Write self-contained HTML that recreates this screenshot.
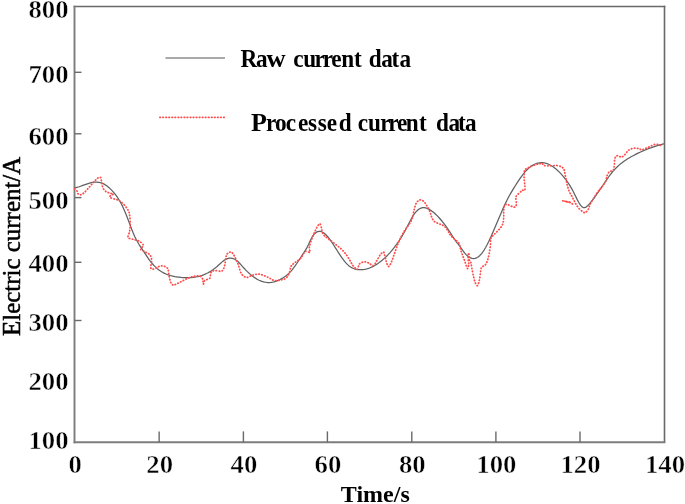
<!DOCTYPE html>
<html><head><meta charset="utf-8"><style>
html,body{margin:0;padding:0;background:#fff;}
body{width:685px;height:504px;overflow:hidden;}
svg{display:block;will-change:transform;}
.b{font-family:"Liberation Serif",serif;font-weight:bold;font-size:25px;fill:#000;}
.n{stroke:#fff;stroke-width:0.45px;paint-order:fill;}
.r{font-family:"Liberation Serif",serif;font-size:25px;fill:#000;stroke:#000;stroke-width:0.5px;}
</style></head><body>
<svg width="685" height="504" viewBox="0 0 685 504">
<line x1="73.6" y1="6.5" x2="665.3" y2="6.5" stroke="#696969" stroke-width="1.6"/>
<line x1="664.5" y1="5.7" x2="664.5" y2="443.1" stroke="#696969" stroke-width="1.6"/>
<line x1="74.5" y1="5.7" x2="74.5" y2="443.2" stroke="#7c7c7c" stroke-width="1.9"/>
<line x1="73.6" y1="442.25" x2="665.3" y2="442.25" stroke="#7c7c7c" stroke-width="1.9"/>
<line x1="159.15" y1="442.3" x2="159.15" y2="431.4" stroke="#6a6a6a" stroke-width="1.4"/>
<line x1="243.4" y1="442.3" x2="243.4" y2="431.4" stroke="#6a6a6a" stroke-width="1.4"/>
<line x1="327.4" y1="442.3" x2="327.4" y2="431.4" stroke="#6a6a6a" stroke-width="1.4"/>
<line x1="411.8" y1="442.3" x2="411.8" y2="431.4" stroke="#6a6a6a" stroke-width="1.4"/>
<line x1="495.9" y1="442.3" x2="495.9" y2="431.4" stroke="#6a6a6a" stroke-width="1.4"/>
<line x1="580.0" y1="442.3" x2="580.0" y2="431.4" stroke="#6a6a6a" stroke-width="1.4"/>
<line x1="74.5" y1="72.3" x2="81.5" y2="72.3" stroke="#6a6a6a" stroke-width="1.4"/>
<line x1="74.5" y1="133.8" x2="81.5" y2="133.8" stroke="#6a6a6a" stroke-width="1.4"/>
<line x1="74.5" y1="197.6" x2="81.5" y2="197.6" stroke="#6a6a6a" stroke-width="1.4"/>
<line x1="74.5" y1="262.3" x2="81.5" y2="262.3" stroke="#6a6a6a" stroke-width="1.4"/>
<line x1="74.5" y1="320.5" x2="81.5" y2="320.5" stroke="#6a6a6a" stroke-width="1.4"/>
<path d="M74.6,188.00 L76.1,187.64 L77.6,187.22 L79.1,186.74 L80.6,186.22 L82.1,185.68 L83.6,185.12 L85.1,184.58 L86.6,184.05 L88.1,183.55 L89.6,183.11 L91.1,182.72 L92.6,182.42 L94.1,182.20 L95.6,182.09 L97.1,182.11 L98.6,182.26 L100.1,182.56 L101.6,183.02 L103.1,183.64 L104.6,184.42 L106.1,185.35 L107.6,186.45 L109.1,187.69 L110.6,189.09 L112.1,190.64 L113.6,192.34 L115.1,194.19 L116.6,196.19 L118.1,198.38 L119.6,200.79 L121.1,203.45 L122.6,206.39 L124.1,209.64 L125.6,213.23 L127.1,217.06 L128.6,221.04 L130.1,225.05 L131.6,228.99 L133.1,232.75 L134.6,236.21 L136.1,239.30 L137.6,242.05 L139.1,244.55 L140.6,246.88 L142.1,249.13 L143.6,251.37 L145.1,253.65 L146.6,255.94 L148.1,258.18 L149.6,260.29 L151.1,262.24 L152.6,264.03 L154.1,265.66 L155.6,267.14 L157.1,268.48 L158.6,269.69 L160.1,270.78 L161.6,271.75 L163.1,272.61 L164.6,273.37 L166.1,274.04 L167.6,274.63 L169.1,275.14 L170.6,275.58 L172.1,275.96 L173.6,276.28 L175.1,276.57 L176.6,276.81 L178.1,277.03 L179.6,277.22 L181.1,277.39 L182.6,277.52 L184.1,277.62 L185.6,277.69 L187.1,277.72 L188.6,277.71 L190.1,277.66 L191.6,277.56 L193.1,277.41 L194.6,277.21 L196.1,276.96 L197.6,276.65 L199.1,276.29 L200.6,275.86 L202.1,275.37 L203.6,274.81 L205.1,274.18 L206.6,273.48 L208.1,272.71 L209.6,271.86 L211.1,270.93 L212.6,269.93 L214.1,268.84 L215.6,267.67 L217.1,266.41 L218.6,265.07 L220.1,263.70 L221.6,262.36 L223.1,261.12 L224.6,260.05 L226.1,259.20 L227.6,258.59 L229.1,258.23 L230.6,258.13 L232.1,258.30 L233.6,258.73 L235.1,259.45 L236.6,260.46 L238.1,261.75 L239.6,263.26 L241.1,264.89 L242.6,266.58 L244.1,268.25 L245.6,269.85 L247.1,271.36 L248.6,272.79 L250.1,274.13 L251.6,275.39 L253.1,276.55 L254.6,277.62 L256.1,278.59 L257.6,279.47 L259.1,280.24 L260.6,280.90 L262.1,281.46 L263.6,281.91 L265.1,282.25 L266.6,282.47 L268.1,282.57 L269.6,282.56 L271.1,282.43 L272.6,282.19 L274.1,281.84 L275.6,281.39 L277.1,280.84 L278.6,280.19 L280.1,279.46 L281.6,278.65 L283.1,277.76 L284.6,276.78 L286.1,275.70 L287.6,274.49 L289.1,273.12 L290.6,271.58 L292.1,269.84 L293.6,267.94 L295.1,265.90 L296.6,263.75 L298.1,261.51 L299.6,259.22 L301.1,256.90 L302.6,254.57 L304.1,252.27 L305.6,249.92 L307.1,247.32 L308.6,244.29 L310.1,240.99 L311.6,237.95 L313.1,235.52 L314.6,233.68 L316.1,232.40 L317.6,231.63 L319.1,231.33 L320.6,231.46 L322.1,231.99 L323.6,232.86 L325.1,234.06 L326.6,235.52 L328.1,237.23 L329.6,239.15 L331.1,241.23 L332.6,243.44 L334.1,245.74 L335.6,248.10 L337.1,250.49 L338.6,252.85 L340.1,255.16 L341.6,257.38 L343.1,259.48 L344.6,261.41 L346.1,263.14 L347.6,264.63 L349.1,265.91 L350.6,266.97 L352.1,267.84 L353.6,268.52 L355.1,269.04 L356.6,269.40 L358.1,269.63 L359.6,269.74 L361.1,269.74 L362.6,269.64 L364.1,269.44 L365.6,269.15 L367.1,268.77 L368.6,268.29 L370.1,267.73 L371.6,267.08 L373.1,266.35 L374.6,265.53 L376.1,264.64 L377.6,263.66 L379.1,262.61 L380.6,261.48 L382.1,260.28 L383.6,259.00 L385.1,257.64 L386.6,256.20 L388.1,254.68 L389.6,253.07 L391.1,251.38 L392.6,249.59 L394.1,247.72 L395.6,245.74 L397.1,243.67 L398.6,241.50 L400.1,239.23 L401.6,236.83 L403.1,234.29 L404.6,231.61 L406.1,228.77 L407.6,225.84 L409.1,222.91 L410.6,220.07 L412.1,217.39 L413.6,214.97 L415.1,212.89 L416.6,211.17 L418.1,209.80 L419.6,208.77 L421.1,208.08 L422.6,207.72 L424.1,207.67 L425.6,207.91 L427.1,208.39 L428.6,209.07 L430.1,209.90 L431.6,210.89 L433.1,212.02 L434.6,213.28 L436.1,214.67 L437.6,216.17 L439.1,217.77 L440.6,219.48 L442.1,221.27 L443.6,223.16 L445.1,225.13 L446.6,227.19 L448.1,229.33 L449.6,231.55 L451.1,233.86 L452.6,236.22 L454.1,238.58 L455.6,240.80 L457.1,242.78 L458.6,244.63 L460.1,246.61 L461.6,248.78 L463.1,250.95 L464.6,252.95 L466.1,254.66 L467.6,256.06 L469.1,257.15 L470.6,257.92 L472.1,258.38 L473.6,258.51 L475.1,258.31 L476.6,257.79 L478.1,256.92 L479.6,255.72 L481.1,254.17 L482.6,252.27 L484.1,250.05 L485.6,247.53 L487.1,244.77 L488.6,241.78 L490.1,238.61 L491.6,235.29 L493.1,231.86 L494.6,228.35 L496.1,224.80 L497.6,221.23 L499.1,217.67 L500.6,214.15 L502.1,210.70 L503.6,207.34 L505.1,204.10 L506.6,201.01 L508.1,198.08 L509.6,195.29 L511.1,192.64 L512.6,190.09 L514.1,187.64 L515.6,185.26 L517.1,182.94 L518.6,180.66 L520.1,178.44 L521.6,176.30 L523.1,174.28 L524.6,172.41 L526.1,170.71 L527.6,169.19 L529.1,167.83 L530.6,166.64 L532.1,165.61 L533.6,164.74 L535.1,164.03 L536.6,163.47 L538.1,163.07 L539.6,162.81 L541.1,162.70 L542.6,162.74 L544.1,162.91 L545.6,163.23 L547.1,163.68 L548.6,164.27 L550.1,164.98 L551.6,165.83 L553.1,166.79 L554.6,167.89 L556.1,169.10 L557.6,170.43 L559.1,171.87 L560.6,173.43 L562.1,175.09 L563.6,176.87 L565.1,178.74 L566.6,180.73 L568.1,182.84 L569.6,185.12 L571.1,187.60 L572.6,190.29 L574.1,193.23 L575.6,196.32 L577.1,199.38 L578.6,202.21 L580.1,204.64 L581.6,206.48 L583.1,207.54 L584.6,207.69 L586.1,207.07 L587.6,205.86 L589.1,204.24 L590.6,202.42 L592.1,200.52 L593.6,198.55 L595.1,196.52 L596.6,194.44 L598.1,192.32 L599.6,190.15 L601.1,187.95 L602.6,185.73 L604.1,183.50 L605.6,181.29 L607.1,179.11 L608.6,177.00 L610.1,174.96 L611.6,173.02 L613.1,171.20 L614.6,169.50 L616.1,167.93 L617.6,166.47 L619.1,165.11 L620.6,163.84 L622.1,162.66 L623.6,161.55 L625.1,160.51 L626.6,159.53 L628.1,158.59 L629.6,157.69 L631.1,156.83 L632.6,155.99 L634.1,155.18 L635.6,154.39 L637.1,153.63 L638.6,152.90 L640.1,152.19 L641.6,151.50 L643.1,150.84 L644.6,150.20 L646.1,149.58 L647.6,148.99 L649.1,148.42 L650.6,147.86 L652.1,147.33 L653.6,146.82 L655.1,146.33 L656.6,145.86 L658.1,145.40 L659.6,144.97 L661.1,144.55 L662.6,144.15 L664.1,143.76 L664.2,143.74" fill="none" stroke="#606060" stroke-width="1.25" stroke-linejoin="round"/>
<path d="M74.60,188.80 C75.00,189.17 76.45,190.20 77.00,191.00 C77.55,191.80 77.32,192.97 77.90,193.60 C78.48,194.23 79.48,194.93 80.50,194.80 C81.52,194.67 82.53,194.08 84.00,192.80 C85.47,191.52 87.70,188.85 89.30,187.10 C90.90,185.35 92.22,183.78 93.60,182.30 C94.98,180.82 96.43,179.00 97.60,178.20 C98.77,177.40 99.95,176.97 100.60,177.50 C101.25,178.03 101.13,179.73 101.50,181.40 C101.87,183.07 102.07,185.82 102.80,187.50 C103.53,189.18 104.50,190.50 105.90,191.50 C107.30,192.50 109.95,193.07 111.20,193.50 C112.45,193.93 113.55,193.72 113.40,194.10 C113.25,194.48 110.82,195.22 110.30,195.80 C109.78,196.38 109.43,197.02 110.30,197.60 C111.17,198.18 113.97,198.75 115.50,199.30 C117.03,199.85 118.12,200.05 119.50,200.90 C120.88,201.75 122.35,202.83 123.80,204.40 C125.25,205.97 127.25,208.58 128.20,210.30 C129.15,212.02 129.15,212.50 129.50,214.70 C129.85,216.90 130.30,220.68 130.30,223.50 C130.30,226.32 129.87,229.28 129.50,231.60 C129.13,233.92 127.48,236.10 128.10,237.40 C128.72,238.70 131.37,238.78 133.20,239.40 C135.03,240.02 137.42,240.13 139.10,241.10 C140.78,242.07 143.03,243.83 143.30,245.20 C143.57,246.57 140.30,248.15 140.70,249.30 C141.10,250.45 144.13,251.13 145.70,252.10 C147.27,253.07 149.12,253.75 150.10,255.10 C151.08,256.45 151.48,258.08 151.60,260.20 C151.72,262.32 150.53,266.32 150.80,267.80 C151.07,269.28 151.95,269.28 153.20,269.10 C154.45,268.92 156.70,267.23 158.30,266.70 C159.90,266.17 161.40,265.77 162.80,265.90 C164.20,266.03 165.78,266.77 166.70,267.50 C167.62,268.23 167.83,268.52 168.30,270.30 C168.77,272.08 168.93,275.90 169.50,278.20 C170.07,280.50 170.83,283.00 171.70,284.10 C172.57,285.20 173.22,285.17 174.70,284.80 C176.18,284.43 178.40,283.00 180.60,281.90 C182.80,280.80 185.70,279.12 187.90,278.20 C190.10,277.28 191.85,276.77 193.80,276.40 C195.75,276.03 198.13,275.58 199.60,276.00 C201.07,276.42 201.98,277.55 202.60,278.90 C203.22,280.25 202.93,283.85 203.30,284.10 C203.67,284.35 203.70,281.38 204.80,280.40 C205.90,279.42 208.92,279.43 209.90,278.20 C210.88,276.97 209.97,274.28 210.70,273.00 C211.43,271.72 212.47,270.82 214.30,270.50 C216.13,270.18 219.98,271.90 221.70,271.10 C223.42,270.30 223.85,268.22 224.60,265.70 C225.35,263.18 225.57,258.17 226.20,256.00 C226.83,253.83 227.72,253.35 228.40,252.70 C229.08,252.05 229.70,252.12 230.30,252.10 C230.90,252.08 231.28,251.88 232.00,252.60 C232.72,253.32 233.57,254.40 234.60,256.40 C235.63,258.40 237.05,261.70 238.20,264.60 C239.35,267.50 240.10,271.67 241.50,273.80 C242.90,275.93 244.77,277.17 246.60,277.40 C248.43,277.63 250.28,275.72 252.50,275.20 C254.72,274.68 257.28,273.93 259.90,274.30 C262.52,274.67 265.83,276.38 268.20,277.40 C270.57,278.42 271.90,279.98 274.10,280.40 C276.30,280.82 279.32,280.37 281.40,279.90 C283.48,279.43 285.23,278.93 286.60,277.60 C287.97,276.27 288.87,273.77 289.60,271.90 C290.33,270.03 290.17,267.92 291.00,266.40 C291.83,264.88 293.02,264.12 294.60,262.80 C296.18,261.48 298.73,260.37 300.50,258.50 C302.27,256.63 303.63,252.65 305.20,251.60 C306.77,250.55 309.22,252.88 309.90,252.20 C310.58,251.52 309.00,249.65 309.30,247.50 C309.60,245.35 310.82,241.85 311.70,239.30 C312.58,236.75 313.63,234.35 314.60,232.20 C315.57,230.05 316.62,227.80 317.50,226.40 C318.38,225.00 319.25,223.60 319.90,223.80 C320.55,224.00 321.02,226.28 321.40,227.60 C321.78,228.92 321.68,230.33 322.20,231.70 C322.72,233.07 323.23,234.43 324.50,235.80 C325.77,237.17 327.93,238.45 329.80,239.90 C331.67,241.35 333.75,242.95 335.70,244.50 C337.65,246.05 339.75,247.52 341.50,249.20 C343.25,250.88 344.83,252.80 346.20,254.60 C347.57,256.40 348.68,258.32 349.70,260.00 C350.72,261.68 351.37,263.35 352.30,264.70 C353.23,266.05 354.42,267.35 355.30,268.10 C356.18,268.85 356.92,269.88 357.60,269.20 C358.28,268.52 358.32,265.22 359.40,264.00 C360.48,262.78 362.55,262.07 364.10,261.90 C365.65,261.73 367.15,262.37 368.70,263.00 C370.25,263.63 372.03,266.13 373.40,265.70 C374.77,265.27 375.73,262.25 376.90,260.40 C378.07,258.55 379.32,256.00 380.40,254.60 C381.48,253.20 382.72,252.00 383.40,252.00 C384.08,252.00 384.02,253.00 384.50,254.60 C384.98,256.20 385.62,259.62 386.30,261.60 C386.98,263.58 387.72,266.50 388.60,266.50 C389.48,266.50 390.62,263.78 391.60,261.60 C392.58,259.42 393.53,256.13 394.50,253.40 C395.47,250.67 396.42,247.73 397.40,245.20 C398.38,242.67 399.22,240.60 400.40,238.20 C401.58,235.80 403.00,233.17 404.50,230.80 C406.00,228.43 408.10,226.12 409.40,224.00 C410.70,221.88 411.52,220.45 412.30,218.10 C413.08,215.75 413.42,212.43 414.10,209.90 C414.78,207.37 415.43,204.55 416.40,202.90 C417.37,201.25 418.73,200.30 419.90,200.00 C421.07,199.70 422.23,200.13 423.40,201.10 C424.57,202.07 425.82,204.03 426.90,205.80 C427.98,207.57 429.12,209.85 429.90,211.70 C430.68,213.55 430.83,215.25 431.60,216.90 C432.37,218.55 433.13,220.42 434.50,221.60 C435.87,222.78 438.13,223.22 439.80,224.00 C441.47,224.78 443.13,225.13 444.50,226.30 C445.87,227.47 447.02,229.53 448.00,231.00 C448.98,232.47 449.28,233.70 450.40,235.10 C451.52,236.50 453.30,238.10 454.70,239.40 C456.10,240.70 457.73,240.95 458.80,242.90 C459.87,244.85 460.22,248.37 461.10,251.10 C461.98,253.83 463.02,256.38 464.10,259.30 C465.18,262.22 466.83,267.82 467.60,268.60 C468.37,269.38 468.62,265.75 468.70,264.00 C468.78,262.25 468.13,259.97 468.10,258.10 C468.07,256.23 468.30,253.10 468.50,252.80 C468.70,252.50 469.17,255.12 469.30,256.30 C469.43,257.48 469.05,258.92 469.30,259.90 C469.55,260.88 470.40,260.93 470.80,262.20 C471.20,263.47 471.27,265.25 471.70,267.50 C472.13,269.75 472.82,273.17 473.40,275.70 C473.98,278.23 474.52,281.05 475.20,282.70 C475.88,284.35 476.82,285.98 477.50,285.60 C478.18,285.22 478.82,282.45 479.30,280.40 C479.78,278.35 480.05,275.45 480.40,273.30 C480.75,271.15 480.62,268.87 481.40,267.50 C482.18,266.13 484.08,266.28 485.10,265.10 C486.12,263.92 486.82,262.35 487.50,260.40 C488.18,258.45 488.72,255.93 489.20,253.40 C489.68,250.87 490.10,247.73 490.40,245.20 C490.70,242.67 490.32,240.07 491.00,238.20 C491.68,236.33 493.15,235.45 494.50,234.00 C495.85,232.55 497.75,231.13 499.10,229.50 C500.45,227.87 501.83,226.25 502.60,224.20 C503.37,222.15 503.52,219.55 503.70,217.20 C503.88,214.85 503.50,212.15 503.70,210.10 C503.90,208.05 504.12,205.77 504.90,204.90 C505.68,204.03 506.83,204.52 508.40,204.90 C509.97,205.28 512.97,207.30 514.30,207.20 C515.63,207.10 516.12,206.05 516.40,204.30 C516.68,202.55 515.38,198.68 516.00,196.70 C516.62,194.72 519.07,193.47 520.10,192.40 C521.13,191.33 521.45,190.62 522.20,190.30 C522.95,189.98 524.13,190.98 524.60,190.50 C525.07,190.02 524.98,188.42 525.00,187.40 C525.02,186.38 524.85,186.05 524.70,184.40 C524.55,182.75 524.12,179.83 524.10,177.50 C524.08,175.17 524.02,171.97 524.60,170.40 C525.18,168.83 526.13,168.92 527.60,168.10 C529.07,167.28 531.45,166.22 533.40,165.50 C535.35,164.78 537.83,164.15 539.30,163.80 C540.77,163.45 541.42,163.12 542.20,163.40 C542.98,163.68 542.73,165.10 544.00,165.50 C545.27,165.90 547.67,165.80 549.80,165.80 C551.93,165.80 554.85,165.32 556.80,165.50 C558.75,165.68 560.32,166.27 561.50,166.90 C562.68,167.53 563.32,168.12 563.90,169.30 C564.48,170.48 564.62,172.25 565.00,174.00 C565.38,175.75 565.80,177.85 566.20,179.80 C566.60,181.75 566.83,183.65 567.40,185.70 C567.97,187.75 568.73,190.12 569.60,192.10 C570.47,194.08 571.72,195.92 572.60,197.60 C573.48,199.28 573.93,200.50 574.90,202.20 C575.87,203.90 577.03,206.18 578.40,207.80 C579.77,209.42 581.93,211.12 583.10,211.90 C584.27,212.68 584.52,212.98 585.40,212.50 C586.28,212.02 587.62,210.37 588.40,209.00 C589.18,207.63 589.23,206.07 590.10,204.30 C590.97,202.53 592.42,200.35 593.60,198.40 C594.78,196.45 595.87,194.43 597.20,192.60 C598.53,190.77 600.22,189.25 601.60,187.40 C602.98,185.55 604.55,183.55 605.50,181.50 C606.45,179.45 606.62,176.75 607.30,175.10 C607.98,173.45 608.63,172.38 609.60,171.60 C610.57,170.82 612.32,171.48 613.10,170.40 C613.88,169.32 614.03,166.95 614.30,165.10 C614.57,163.25 614.40,160.77 614.70,159.30 C615.00,157.83 615.48,156.88 616.10,156.30 C616.72,155.72 617.53,155.65 618.40,155.80 C619.27,155.95 620.32,157.30 621.30,157.20 C622.28,157.10 623.32,156.12 624.30,155.20 C625.28,154.28 626.23,152.68 627.20,151.70 C628.17,150.72 628.83,149.90 630.10,149.30 C631.37,148.70 633.33,148.20 634.80,148.10 C636.27,148.00 637.73,148.43 638.90,148.70 C640.07,148.97 640.53,149.80 641.80,149.70 C643.07,149.60 644.93,148.75 646.50,148.10 C648.07,147.45 649.73,146.43 651.20,145.80 C652.67,145.17 654.03,144.50 655.30,144.30 C656.57,144.10 657.82,144.35 658.80,144.60 C659.78,144.85 660.80,145.60 661.20,145.80" fill="none" stroke="#ff4d4d" stroke-width="1.75" stroke-linecap="round" stroke-dasharray="0.45 2.55"/>
<path d="M566.50,201.60 C567.12,201.75 569.00,201.95 570.20,202.50 C571.40,203.05 573.12,204.50 573.70,204.90" fill="none" stroke="#ff4d4d" stroke-width="1.75" stroke-linecap="round" stroke-dasharray="0.45 2.55"/>
<path d="M562.60,200.80 C563.25,200.93 565.23,201.32 566.50,201.60 C567.77,201.88 569.58,202.35 570.20,202.50" fill="none" stroke="#ff4d4d" stroke-width="1.6" stroke-linecap="round" stroke-dasharray="1.2 1.0"/>
<line x1="165.5" y1="58" x2="225" y2="58" stroke="#8c8c8c" stroke-width="1.5"/>
<line x1="159.8" y1="117.4" x2="225" y2="117.4" stroke="#ff4848" stroke-width="1.6" stroke-linecap="round" stroke-dasharray="0.6 2.44"/>
<text transform="translate(68.5,18.4) scale(1.07,1)" text-anchor="end" class="b n">800</text>
<text transform="translate(68.5,83.2) scale(1.07,1)" text-anchor="end" class="b n">700</text>
<text transform="translate(68.5,145.4) scale(1.07,1)" text-anchor="end" class="b n">600</text>
<text transform="translate(68.5,208.7) scale(1.07,1)" text-anchor="end" class="b n">500</text>
<text transform="translate(68.5,272.4) scale(1.07,1)" text-anchor="end" class="b n">400</text>
<text transform="translate(68.5,331.2) scale(1.07,1)" text-anchor="end" class="b n">300</text>
<text transform="translate(68.5,390.0) scale(1.07,1)" text-anchor="end" class="b n">200</text>
<text transform="translate(68.5,448.8) scale(1.07,1)" text-anchor="end" class="b n">100</text>
<text transform="translate(75.1,472.8) scale(1.07,1)" text-anchor="middle" class="b n">0</text>
<text transform="translate(159.7,472.8) scale(1.07,1)" text-anchor="middle" class="b n">20</text>
<text transform="translate(243.9,472.8) scale(1.07,1)" text-anchor="middle" class="b n">40</text>
<text transform="translate(327.9,472.8) scale(1.07,1)" text-anchor="middle" class="b n">60</text>
<text transform="translate(412.3,472.8) scale(1.07,1)" text-anchor="middle" class="b n">80</text>
<text transform="translate(496.4,472.8) scale(1.07,1)" text-anchor="middle" class="b n">100</text>
<text transform="translate(580.5,472.8) scale(1.07,1)" text-anchor="middle" class="b n">120</text>
<text transform="translate(665.0,472.8) scale(1.07,1)" text-anchor="middle" class="b n">140</text>
<text x="375.3" y="502.2" text-anchor="middle" class="b" style="font-size:24px">Time/s</text>
<text transform="translate(266.52,66.9) scale(1.06,1)" class="b">w</text>
<text transform="scale(0.93,1)" x="258.61 275.22 315.27 325.97 338.25 347.07 356.24 367.07 380.56 396.41 409.84 420.89 429.52" y="66.9" class="b">Racurrentdata</text>
<text transform="translate(250.96,130.7) scale(1.04,1)" class="b">P</text>
<text transform="scale(0.93,1)" x="286.00 295.82 307.21 320.33 331.07 341.61 351.30 364.36 384.63 395.75 408.79 417.61 426.89 436.43 450.46 468.77 482.21 492.61 500.05" y="130.7" class="b">rocessedcurrentdata</text>
<text transform="translate(19.6,336) rotate(-90)" class="r" textLength="179.3" lengthAdjust="spacingAndGlyphs">Electric current/A</text>
</svg>
</body></html>
